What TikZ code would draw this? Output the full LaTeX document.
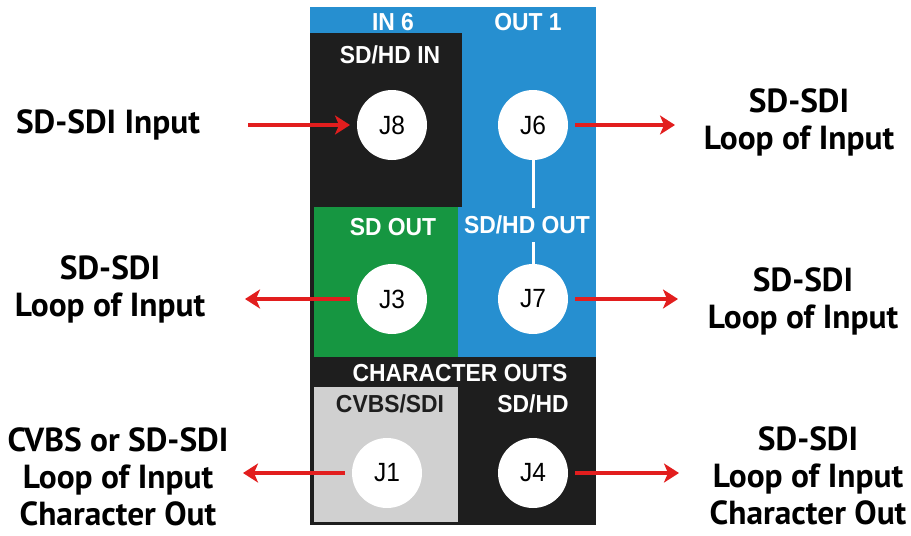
\documentclass[tikz,border=0pt]{standalone}
\usepackage{fontspec}
\setmainfont{PT Sans}
\newfontfamily\panelfont[FakeStretch=0.93]{Liberation Sans}
\usetikzlibrary{positioning, arrows.meta, calc}

\definecolor{panelblue}{RGB}{38,143,208}
\definecolor{panelgreen}{RGB}{22,150,65}
\definecolor{panelblack}{RGB}{30,30,30}
\definecolor{panelgrey}{RGB}{208,208,208}
\definecolor{sigred}{RGB}{226,30,30}

\tikzset{
    jack/.style={circle, fill=white, minimum size=1.4cm, inner sep=0pt, outer sep=0.14cm,
        font=\panelfont\fontsize{15}{15}\selectfont},
    plabel/.style={text=white, inner sep=1pt, font=\panelfont\bfseries\fontsize{14}{14}\selectfont},
    desc/.style={align=center, inner sep=0pt, font=\bfseries\fontsize{19}{21}\selectfont},
    sig/.style={draw=sigred, line width=0.08cm, -{Stealth[length=0.3cm, width=0.38cm, inset=0.08cm]}},
    link/.style={draw=white, line width=0.06cm}
}

\begin{document}
\begin{tikzpicture}[x=0.02cm, y=-0.02cm]
    \useasboundingbox (0,0) rectangle (911,535);

    % Panel
    \fill[panelblue] (310,7) rectangle (596,357);
    \fill[panelblack] (310,33) rectangle (462,207);
    \fill[panelblack] (310,207) rectangle (314,357);
    \fill[panelgreen] (314,207) rectangle (458,357);
    \fill[panelblack] (310,357) rectangle (596,525);
    \fill[panelgrey] (314,387) rectangle (458,522);

    % Jacks
    \node[jack] (j8) at (392,125) {J8};
    \node[jack] (j6) at (533,125) {J6};
    \node[jack] (j3) at (392,299) {J3};
    \node[jack] (j7) at (533,299) {J7};
    \node[jack] (j1) at (387,473) {J1};
    \node[jack] (j4) at (533,473) {J4};
    \draw[link, shorten <=-0.15cm, shorten >=-0.15cm] (j6) -- (j7);

    % Panel labels
    \node[plabel] (in6) at (393,22) {IN 6};
    \node[plabel] (out1) at (528,22) {OUT 1};
    \node[plabel] (sdhdin) at (390,55) {SD/HD IN};
    \node[plabel] (sdout) at (393,227) {SD OUT};
    \node[plabel, fill=panelblue, minimum height=0.68cm] (sdhdout) at (527,225) {SD/HD OUT};
    \node[plabel] (charouts) at (460,373) {CHARACTER OUTS};
    \node[plabel, text=panelblack] (cvbs) at (390,404) {CVBS/SDI};
    \node[plabel] (sdhd) at (533,404) {SD/HD};

    % Descriptions
    \node[desc] (inlbl) at (108,125) {SD-SDI Input};
    \node[desc] (loop3) at (110,289) {SD-SDI\\Loop of Input};
    \node[desc] (char1) at (118,477) {CVBS or SD-SDI\\Loop of Input\\Character Out};
    \node[desc] (loop6) at (799,122) {SD-SDI\\Loop of Input};
    \node[desc] (loop7) at (803,301) {SD-SDI\\Loop of Input};
    \node[desc] (char4) at (808,476) {SD-SDI\\Loop of Input\\Character Out};

    % Signal arrows
    \coordinate (a8) at (248,125);
    \coordinate (e6) at (675,125);
    \coordinate (w3) at (245,299);
    \coordinate (e7) at (678,299);
    \coordinate (w1) at (243,473);
    \coordinate (e4) at (679,473);
    \draw[sig] (a8) -- (j8);
    \draw[sig] (j6) -- (e6);
    \draw[sig] (j3) -- (w3);
    \draw[sig] (j7) -- (e7);
    \draw[sig] (j1) -- (w1);
    \draw[sig] (j4) -- (e4);
\end{tikzpicture}
\end{document}
